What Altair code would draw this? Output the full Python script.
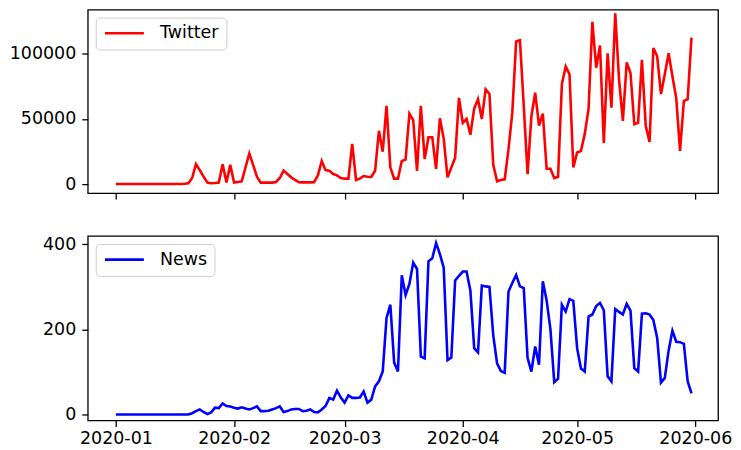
import altair as alt
import pandas as pd

start_date = "2020-01-01"
tick_months = [(2020, 1), (2020, 2), (2020, 3), (2020, 4), (2020, 5), (2020, 6)]
twitter_ticks = [0, 50000, 100000]
news_ticks = [0, 200, 400]

twitter = [
    400, 400, 400, 400, 400, 400, 400, 400, 400, 400,
    400, 400, 400, 400, 400, 400, 400, 400, 600, 1000,
    5000, 15500, 11000, 6000, 1500, 1000, 1200, 1500, 15500, 1500,
    15000, 1500, 2000, 2500, 13000, 23700, 15000, 6000, 1500, 1500,
    1500, 1500, 2000, 5000, 10600, 8000, 5500, 3500, 1800, 1700,
    1700, 1700, 1800, 7000, 18000, 11000, 10500, 8000, 7000, 5000,
    4500, 4500, 31000, 3500, 4500, 6500, 6000, 5800, 10500, 41000,
    25000, 60000, 13000, 4500, 4500, 18000, 19000, 54000, 49000, 10500,
    60000, 19500, 36000, 36000, 12000, 50500, 35000, 5500, 13000, 20500,
    66000, 47000, 50000, 38000, 58000, 65000, 50000, 72500, 69000, 15000,
    2500, 3500, 4000, 27000, 55000, 109000, 110000, 60000, 8000, 52000,
    70000, 45000, 54000, 12000, 12000, 5000, 6000, 76500, 90000, 84000,
    13000, 24500, 25500, 38600, 57600, 124000, 89000, 106000, 31800, 100000,
    58500, 130500, 80000, 48500, 93000, 85000, 46000, 47000, 95000, 44700,
    32500, 104000, 97700, 69000, 84000, 100000, 82500, 66000, 25700, 63600,
    65000, 112000,
]

news = [
    0, 0, 0, 0, 0, 0, 0, 0, 0, 0,
    0, 0, 0, 0, 0, 0, 0, 0, 0, 0,
    3, 8, 12, 6, 1, 5, 16, 15, 26, 20,
    19, 16, 14, 17, 14, 12, 15, 19, 8, 8,
    9, 12, 15, 19, 6, 8, 12, 13, 13, 8,
    9, 12, 6, 5, 12, 20, 39, 35, 56, 40,
    28, 45, 39, 39, 40, 54, 28, 35, 66, 78,
    101, 227, 258, 122, 101, 327, 281, 307, 357, 342,
    136, 132, 360, 367, 403, 377, 345, 128, 134, 315,
    326, 336, 336, 291, 156, 146, 303, 301, 300, 186,
    120, 102, 98, 289, 309, 328, 301, 297, 133, 101,
    160, 117, 313, 268, 200, 76, 84, 258, 242, 271,
    267, 156, 108, 101, 230, 235, 255, 262, 245, 90,
    78, 248, 241, 235, 260, 244, 109, 101, 237, 238,
    235, 222, 180, 75, 86, 150, 197, 171, 170, 166,
    78, 50,
]

dates = pd.date_range(start_date, periods=len(twitter), freq="D").strftime("%Y-%m-%dT00:00:00")
df_t = pd.DataFrame({"date": dates, "value": twitter, "series": "Twitter"})
df_n = pd.DataFrame({"date": dates, "value": news, "series": "News"})

FONT = "DejaVu Sans"
FS = 17.5
LW = 1.3

x_domain = [alt.DateTime(year=2019, month=12, date=24, hours=15),
            alt.DateTime(year=2020, month=6, date=6, hours=23, minutes=15)]
x_values = [alt.DateTime(year=y, month=m, date=1) for (y, m) in tick_months]


def x_axis(show_labels):
    kw = dict(values=x_values, title=None, grid=False, domain=False,
              tickColor="black", tickSize=6, tickWidth=LW, labels=show_labels)
    if show_labels:
        kw.update(format="%Y-%m", labelFont=FONT, labelFontSize=FS,
                  labelColor="black", labelPadding=3, labelFlush=False)
    return alt.Axis(**kw)


def y_axis(vals):
    return alt.Axis(values=vals, title=None, grid=False, domain=False, format="d",
                    tickColor="black", tickSize=6, tickWidth=LW, labelFont=FONT,
                    labelFontSize=FS, labelColor="black", labelPadding=6)


def legend():
    return alt.Legend(orient="top-left", title=None, symbolType="M-1,0H5",
                      symbolSize=169, symbolStrokeWidth=2.6, labelFont=FONT,
                      labelFontSize=FS, labelColor="black", fillColor="white",
                      strokeColor="#cccccc", cornerRadius=4, padding=7,
                      offset=8, labelOffset=40)


def panel(df, name, color, ydom, yticks, show_labels, h):
    return alt.Chart(df).mark_line(strokeWidth=2.6, clip=True).encode(
        x=alt.X("date:T", scale=alt.Scale(domain=x_domain, nice=False), axis=x_axis(show_labels)),
        y=alt.Y("value:Q", scale=alt.Scale(domain=ydom, nice=False, zero=False), axis=y_axis(yticks)),
        color=alt.Color("series:N", scale=alt.Scale(domain=[name], range=[color]), legend=legend()),
    ).properties(width=632, height=h)


top = panel(df_t, "Twitter", "#ff0000", [-6500, 133300], twitter_ticks, False, 184)
bottom = panel(df_n, "News", "#0000ff", [-14, 419.5], news_ticks, True, 185)

chart = alt.vconcat(top, bottom, spacing=33).resolve_scale(color="independent").resolve_legend(
    color="independent"
).properties(padding={"left": 0, "top": 0, "right": 0, "bottom": 0}).configure_view(
    stroke="black", strokeWidth=LW
)

chart.save("out.html", embed_options={"renderer": "svg", "actions": False})
